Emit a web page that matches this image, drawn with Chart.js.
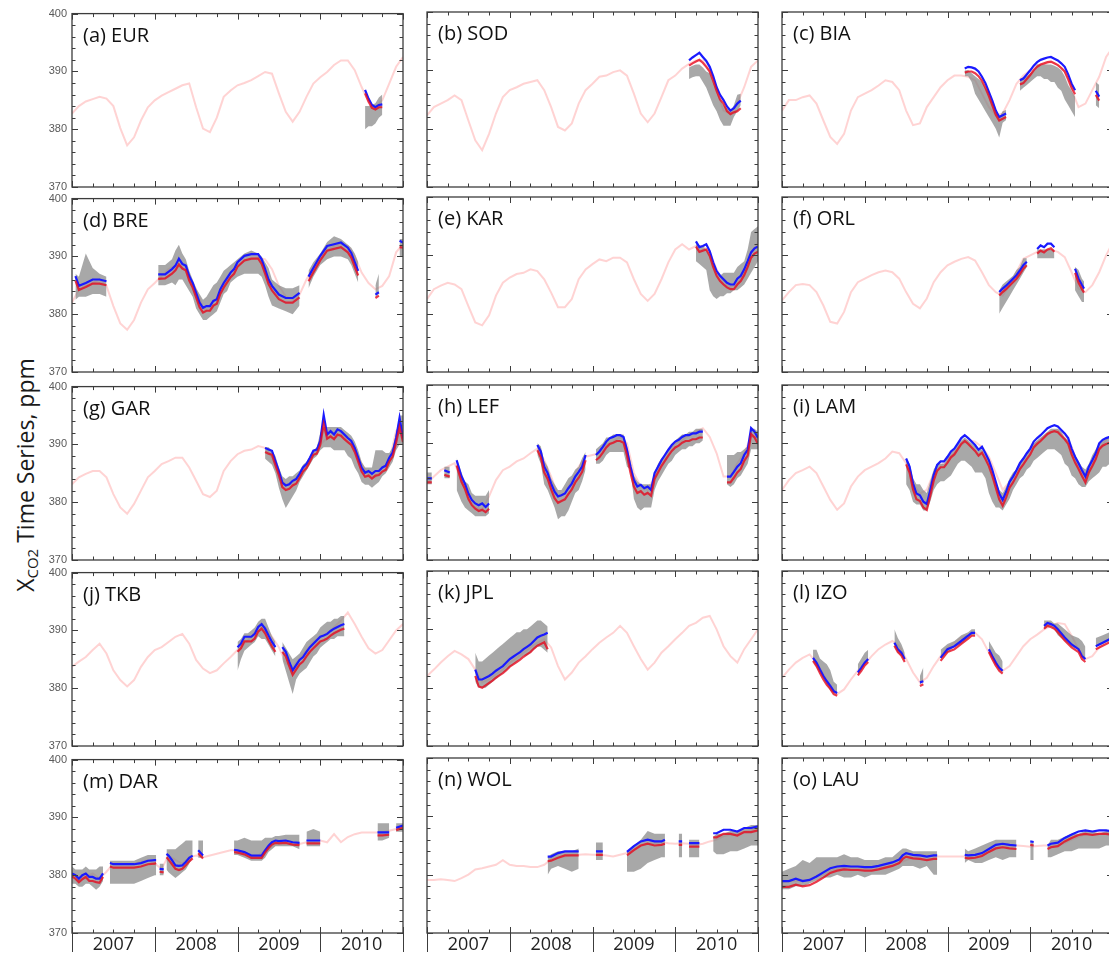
<!DOCTYPE html>
<html>
<head>
<meta charset="utf-8">
<script src="https://cdn.jsdelivr.net/npm/chart.js@4.4.0/dist/chart.umd.min.js"></script>
<style>
  html, body { margin: 0; padding: 0; background: #fff; overflow: hidden; }
  #wrap { position: relative; width: 1109px; height: 955px; overflow: hidden; }
  #wrap canvas { position: absolute; }
  #ytitle {
    position: absolute; left: 25px; top: 475px;
    transform: translate(-50%, -50%) rotate(-90deg);
    font: 23px "Open Sans", sans-serif; color: #1a1a1a; white-space: nowrap;
  }
  #ytitle sub { font-size: 15px; vertical-align: -4px; }
</style>
</head>
<body>
<div id="wrap">
  <div id="ytitle">X<sub>CO2</sub> Time Series, ppm</div>
</div>
<script>
// x axis is months since Jan 2007
const years = ["2007", "2008", "2009", "2010"];
const modelMonths = [0,1,2,3,4,5,6,7,8,9,10,11,12,13,14,15,16,17,18,19,20,21,22,23,24,
  25,26,27,28,29,30,31,32,33,34,35,36,37,38,39,40,41,42,43,44,45,46,47,48];
const panelNames = ["(a) EUR", "(b) SOD", "(c) BIA", "(d) BRE", "(e) KAR", "(f) ORL", "(g) GAR", "(h) LEF",
  "(i) LAM", "(j) TKB", "(k) JPL", "(l) IZO", "(m) DAR", "(n) WOL", "(o) LAU"];

// (a) EUR
const eurModel = [382.7,384.0,384.8,385.2,385.6,385.3,384.0,380.2,377.2,378.6,381.5,383.8,385.0,385.8,386.4,387.0,387.6,387.9,383.8,380.1,379.5,382.0,385.6,386.7,387.6,388.0,388.5,389.2,389.9,389.6,386.2,383.0,381.3,383.0,385.6,387.9,389.0,389.9,391.1,391.9,391.9,390.2,387.3,384.7,383.8,385.0,387.9,390.8,392.5];
const eurT = [42.5,43,43.5,44,44.5,45];
const eurBlue = [386.8,385.3,384.2,383.8,384.2,384.3];
const eurRed = [386.2,384.8,383.7,383.4,383.8,383.8];
const eurLo = [380,380.5,380.5,381,382,382.5];
const eurHi = [384,384,384.2,384.5,385.5,386];

// (b) SOD
const sodModel = [382.3,383.7,384.3,384.9,385.7,384.9,381.4,378.0,376.3,379.1,382.6,385.4,386.6,387.1,387.7,388.0,388.3,386.6,383.7,380.3,379.7,380.9,384.3,386.6,387.7,388.9,389.1,389.7,390.0,389.1,386.0,382.6,381.1,382.6,385.4,388.3,389.1,390.3,391.1,391.7,391.7,390.0,386.6,383.1,382.6,384.3,387.1,390.6,391.7];
const sodT = [38,38.5,39,39.5,40,40.5,41,41.5,42,42.5,43,43.5,44,44.5,45,45.5];
const sodBlue = [391.7,392.2,392.6,393.0,392.3,391.6,390.6,389.0,387.1,385.8,384.9,383.8,383.1,383.5,384.3,384.8];
const sodRed = [390.8,391.2,391.5,391.8,391.3,390.6,389.8,388.2,386.5,385.0,384.3,383.0,382.5,382.8,383.0,383.5];
const sodLo = [388.5,388.8,389,389,388,387,385.5,384,383,381.5,380.5,380.5,380.5,382,383,384];
const sodHi = [390.5,390.8,391,391,390.5,389.8,389.5,388,386.5,385,384,383.5,383,384,385.8,386];

// (c) BIA
const biaModel = [383.1,384.9,384.9,385.4,385.7,384.3,381.4,378.6,377.4,379.1,383.1,385.4,386.0,386.6,387.4,388.3,388.0,386.6,383.1,380.6,380.9,383.7,385.4,387.1,388.3,389.1,389.1,388.9,388.3,386.0,383.7,382.3,382.6,384.9,387.7,389.1,390.0,390.9,391.1,391.4,390.9,389.7,386.6,383.7,384.3,386.6,388.9,392.3,394.0];
const biaT = [26.5,27,27.5,28,28.5,29,29.5,30,30.5,31,31.5,32,32.5,33.5,34.5,35,35.5,36,36.5,37,37.5,38,38.5,39,39.5,40,40.5,41,41.5,42,42.5,44,45.5,46];
const biaBlue = [390.3,390.6,390.5,390.3,389.8,388.9,387.8,386.3,384.8,383.1,382.0,382.3,382.6,null,388.3,388.6,389.3,390.0,390.8,391.4,391.8,392.0,392.2,392.3,392.0,391.7,391.2,390.6,389.3,387.7,386.6,null,386.5,385.5];
const biaRed = [389.6,389.8,389.8,389.5,389.0,388.2,387.0,385.6,384.0,382.4,381.4,381.7,382.0,null,387.6,387.8,388.5,389.2,390.0,390.6,391.0,391.2,391.4,391.5,391.2,390.9,390.4,389.8,388.5,387.0,385.9,null,385.8,384.8];
const biaLo = [389,389,388,386,385,384,383,382,381,380,378.5,381,381.5,null,386.5,387,387.5,388,388.5,389,389,388.5,388.5,388,388,387,386.5,385,384,383,382,null,384,383.5];
const biaHi = [390,390,389.5,389,388.5,388,387,386,384.5,383,382,383,383.2,null,388.5,388.8,389,389.5,390,391,391,391,391,391,390.8,390.5,390,389,387.5,386.5,385.5,null,388,387.5];

// (d) BRE
const breModel = [382.0,384.3,384.9,385.4,386.0,384.9,381.4,378.4,377.3,379.0,382.0,384.3,385.4,386.6,387.8,388.4,388.1,386.6,384.3,381.1,380.5,382.0,384.9,387.2,388.4,389.2,389.5,389.8,389.5,387.8,384.9,383.1,382.5,383.4,386.0,388.1,390.1,391.0,391.8,392.1,391.8,390.1,387.2,385.4,384.3,384.9,386.6,390.7,392.1];
const breT = [0.5,1,2,3,4,5,6,12.5,13.5,14.5,15,15.5,16,16.5,17,17.5,18,18.5,19,19.5,20,20.5,21,21.5,22,22.5,23,23.5,24,25,26,27,27.5,28,28.5,29,30,31,32,33,33.7,34.3,35,36,37,38,39,40,40.5,41,41.5,42.5,44,44.5,45.2,47.5,48];
const breBlue = [386.6,384.9,385.4,386.0,386.0,385.7,null,386.9,386.9,387.8,388.4,389.6,388.7,388.4,386.6,385.4,383.7,382.0,381.1,381.4,381.4,382.3,382.6,384.3,385.4,386.3,387.2,387.8,389.0,390.1,390.4,390.4,389.5,387.8,386.0,384.9,383.4,382.8,382.8,383.7,null,386.5,388.0,390.1,391.8,392.1,392.4,391.5,390.6,389.0,387.5,null,383.4,383.8,null,392.7,392.4];
const breRed = [385.8,384.2,384.7,385.3,385.3,385.0,null,386.1,386.2,387.0,387.6,388.6,387.9,387.6,385.8,384.6,382.9,381.2,380.3,380.6,380.6,381.5,381.8,383.5,384.6,385.5,386.4,387.0,388.2,389.3,389.6,389.6,388.7,387.0,385.2,384.1,382.6,382.0,382.0,382.9,null,385.7,387.2,389.3,391.0,391.3,391.6,390.7,389.8,388.2,386.7,null,382.8,383.2,null,391.6,391.5];
const breLo = [382.5,383,383,383.5,383.5,383,null,385,385,385.5,385,386,386,385,384,383,381,380,379,379,379.5,380,380.5,382,383.5,384,385.5,386,386.5,387,387,387,386.5,385,383,381.5,381,380.5,380,381.5,null,384.5,386.5,388.5,389.5,390,390,389.5,388.5,387,385.5,null,383,383.5,null,390,390];
const breHi = [387,386.5,390.5,388,387,386.5,null,388.5,388.5,389.5,391,392,390.5,389.5,387.5,386,384.5,383.5,382.5,383,384,385,385.5,386.5,387.5,388,388.5,389,389.5,390.5,391,390.5,390,389,388,386,385,384.5,384.5,385,null,387.5,389,390.5,392.5,393.5,393,392,391.5,390.5,389,null,385,387,null,393,393];

// (e) KAR
const karModel = [382.5,384.2,384.8,385.3,385.0,384.2,381.3,378.5,378.0,379.7,383.1,385.3,386.2,386.8,387.0,387.6,387.3,385.9,383.6,381.1,381.1,382.5,385.9,387.6,388.5,389.3,389.0,389.6,389.6,388.8,385.9,383.4,382.2,383.4,385.9,388.8,391.0,391.9,391.0,391.6,391.6,390.5,387.6,385.3,384.5,385.3,387.0,390.5,392.2];
const karT = [39,39.5,40,40.5,41,41.5,42,42.5,43,43.5,44,44.5,45,45.5,46,46.5,47,47.5,48];
const karBlue = [392.4,391.4,391.6,391.9,390.7,388.8,387.3,386.5,385.9,385.3,385.0,385.0,386.0,386.5,387.6,389.0,390.5,391.2,391.5];
const karRed = [391.5,390.6,390.8,391.0,389.9,388.0,386.5,385.6,385.0,384.5,384.2,384.2,385.0,385.6,386.6,388.0,389.6,390.3,390.6];
const karLo = [389,388.5,388,387.5,384,383,382.5,383,383,383.5,383.5,384,384,384.5,385,386,387,388,389];
const karHi = [392,391.5,391.5,391,390,388.5,387,386.5,387,387,387,387,388,388.5,389,391,394,394.5,395];

// (f) ORL
const orlModel = [382.3,383.7,384.9,385.1,384.9,383.7,381.4,378.6,378.3,380.3,383.7,385.4,386.0,386.6,387.1,387.4,387.1,386.0,383.7,381.7,380.9,382.6,385.4,387.1,388.3,388.9,389.4,389.7,389.1,387.1,384.9,383.7,383.1,384.9,387.1,389.4,390.0,390.6,390.9,390.9,390.6,389.7,387.1,384.3,383.7,384.9,387.1,390.0,392.3];
const orlT = [31.5,32,32.5,33,33.5,34,34.5,35,35.5,36.3,37,37.5,38,38.5,39,39.5,40.5,41.5,42,42.5,43,43.5,43.8];
const orlBlue = [383.7,384.3,384.8,385.4,386.0,386.6,387.4,388.3,388.9,null,391.1,391.7,391.4,392.0,392.0,391.4,null,391.0,null,387.7,386.0,384.9,384.3];
const orlRed = [383.1,383.7,384.2,384.8,385.4,386.0,386.8,387.7,388.3,null,390.3,390.8,390.5,391.0,391.2,390.6,null,390.3,null,387.0,385.3,384.2,383.6];
const orlLo = [380,381,382,383,384,385,386,387,388,null,389.5,389.5,389.5,389.5,389.5,389.5,null,390,null,384,383,382,382];
const orlHi = [384,385,385.5,386,386.5,387.5,388,389.5,389.5,null,391,391,391,391,391,391,null,391,null,388,387.5,386,385.5];

// (g) GAR
const garModel = [383.1,384.3,384.9,385.4,385.4,384.3,381.4,379.1,378.0,379.7,382.0,384.3,385.4,386.6,387.1,387.7,387.7,386.0,383.7,381.4,380.9,382.0,385.4,387.1,388.3,388.9,389.1,389.7,389.4,387.7,384.3,383.1,383.1,384.9,386.6,388.3,390.0,391.1,391.1,391.7,391.1,389.4,386.6,384.9,384.3,386.0,387.1,392.3,393.4];
const garT = [28,28.5,29,29.5,30,30.5,31,31.5,32,32.5,33,33.5,34,34.5,35,35.5,36,36.5,37,37.5,38,38.5,39,39.5,40,40.5,41,41.5,42,42.5,43,43.5,44,44.5,45,45.5,46,46.5,47,47.5,48];
const garBlue = [389.4,389.1,388.9,387.1,385.4,383.4,382.9,383.1,383.7,384.0,384.9,386.0,386.6,387.7,388.9,389.1,390.6,395.1,391.7,392.3,391.7,392.6,392.3,391.7,391.1,390.6,389.4,387.7,386.0,385.1,385.4,384.9,385.4,385.4,386.0,386.3,387.7,388.6,391.1,394.6,391.1];
const garRed = [388.7,388.4,388.2,386.4,384.7,382.6,382.1,382.3,382.9,383.2,384.2,385.3,385.9,387.0,388.2,388.4,389.9,393.5,391.0,391.4,390.9,391.7,391.5,390.9,390.4,389.9,388.7,387.0,385.3,384.4,384.6,384.1,384.6,384.7,385.3,385.6,387.0,387.9,390.3,393.0,390.4];
const garLo = [387.5,387,386.5,385,382.5,380.5,379,380,381,382,383.5,384.5,385.5,386.5,387.5,388,389,389.5,389.5,389.5,389,389,389,389,388,387.5,386,385,383.5,383,383,382.5,383,383.5,384.5,385,386,387,389,390,390];
const garHi = [389.5,389.5,389,388,386,384.5,384,384.5,384.5,385,385.5,386.5,387,388,389,389.5,392,393,393,393,393,393,393,392.5,392,391.5,390.5,389,387,386,386,386,389,389,389,388.5,388.5,389.5,392,395,395];

// (h) LEF
const lefModel = [383.1,384.3,385.4,386.0,386.6,383.7,380.3,379.1,378.6,380.9,383.7,385.4,386.0,386.9,387.4,388.3,389.1,387.1,384.3,380.9,381.4,383.7,386.0,387.7,388.0,388.3,389.7,390.3,391.1,390.0,384.9,382.6,382.0,384.3,387.1,388.9,390.0,390.6,391.4,392.0,392.6,391.1,388.3,384.3,384.3,386.6,388.3,391.1,391.1];
const lefT = [0,0.7,1.5,2.5,3.3,3.8,4.3,5,5.5,6,6.5,7,7.5,8,8.5,9,12.5,
  16,16.5,17,17.5,18,18.5,19,19.5,20,20.5,21,21.5,22,22.5,23,23.8,
  24.5,25,25.5,26,26.5,27,27.5,28,28.5,29,29.5,30,30.5,31,31.5,32,32.5,33,33.5,34,34.5,35,35.5,36,36.5,37,37.5,38,38.5,39,39.5,40,41.5,
  43.5,44,44.5,45,45.5,46,46.5,47,47.5,48];
const lefBlue = [384.0,384.0,null,385.4,385.0,null,387.1,384.3,383.1,381.4,380.3,379.7,379.4,379.7,379.1,379.7,null,
  389.7,388.6,386.0,384.9,383.1,381.7,380.9,381.1,381.4,382.3,383.1,384.3,385.1,386.0,388.0,null,
  388.0,388.6,389.4,390.3,390.9,391.1,391.4,391.4,391.1,388.9,386.0,383.7,382.6,382.9,382.3,382.6,382.0,384.9,386.0,387.1,388.0,388.9,389.7,390.3,390.6,391.1,391.4,391.4,391.7,391.7,392.0,392.0,null,
  384.3,384.3,385.1,386.0,386.6,388.0,388.9,392.6,392.0,390.9];
const lefRed = [383.3,383.3,null,384.6,384.3,null,386.2,383.4,382.2,380.5,379.4,378.8,378.4,378.6,378.2,378.8,null,
  388.8,387.6,385.0,383.9,382.1,380.6,379.8,380.1,380.4,381.3,382.1,383.3,384.1,385.1,387.1,null,
  387.1,387.6,388.4,389.3,389.9,390.1,390.4,390.4,390.1,387.9,385.0,382.6,381.5,381.8,381.2,381.5,381.0,383.9,385.0,386.1,387.0,387.9,388.7,389.3,389.6,390.1,390.4,390.4,390.7,390.7,391.0,391.0,null,
  383.3,383.3,384.1,385.0,385.6,387.0,387.9,391.6,391.0,389.9];
const lefLo = [383,383,null,384,384,null,382,380,379,378.5,378,377.5,377.5,377.5,377.5,378,null,
  388,386.5,383,382,380.5,379,377,377.5,377.5,378.5,380,381.5,382,383.5,385.5,null,
  386.5,386.5,387,388,388.5,388.5,388.5,388.5,388.5,386,385.5,380.5,379,378.5,379,379,379,382,383.5,384.5,385.5,386.5,387,388,388.5,389,389,389.5,389.5,390,390,390.5,null,
  383,382.5,383,384,384.5,385.5,386.5,389,389,389];
const lefHi = [385,385,null,386,386,null,387.5,385,383.5,383,381.5,381,381,381,381,382,null,
  390,389.5,387,386,384,383,382,382,383,384,384.5,385.5,386,387.5,388.5,null,
  389,389.5,390,391,391,391.5,391.5,391.5,391.5,389.5,387,384.5,383.5,383,383,383,383,385,386.5,387.5,388,389,389.5,390.5,391,391.5,391.5,392,392,392.5,392.5,392.5,null,
  388,388,388,388.5,388.5,389,389.5,392.5,392.5,392];

// (i) LAM
const lamModel = [382.0,383.7,384.9,385.4,386.0,384.9,382.6,380.3,378.6,379.7,382.6,384.3,385.4,386.0,386.6,387.4,388.6,388.3,386.6,383.1,381.4,382.0,384.9,386.0,387.4,388.3,389.7,390.6,390.3,389.4,387.7,384.9,382.0,383.4,385.4,387.4,389.1,390.3,391.1,392.0,392.3,391.4,389.4,386.0,384.3,386.0,388.9,390.6,391.7];
const lamT = [18,18.5,19,19.5,20,20.5,21,21.5,22,22.5,23,23.5,24,24.5,25,25.5,26,26.5,27,27.5,28,28.5,29,29.5,30,30.5,31,31.5,32,32.5,
  33,33.5,34,34.5,35,35.5,36,36.5,37,37.5,38,38.5,39,39.5,40,40.5,41,41.5,42,42.5,43,43.5,44,44.5,45,45.5,46,46.5,47,47.5,48];
const lamBlue = [387.4,386.0,383.1,381.4,381.1,380.0,379.6,382.0,384.6,386.3,386.9,386.9,387.7,388.6,389.1,390.0,390.9,391.4,390.9,390.3,
  389.7,388.9,389.4,388.3,387.1,385.4,383.4,381.4,380.3,381.7,383.4,384.3,385.4,386.6,387.4,388.3,389.1,390.3,390.9,391.4,
  392.0,392.6,392.9,393.1,392.9,392.3,391.7,390.9,389.1,387.7,386.6,385.4,384.3,386.0,387.1,388.3,390.0,390.6,390.9,391.1,391.1];
const lamRed = [386.4,385.0,382.1,380.4,380.1,379.0,378.6,381.0,383.6,385.3,385.9,385.9,386.7,387.6,388.1,389.0,389.9,390.4,389.9,389.3,
  388.7,387.9,388.4,387.3,386.1,384.4,382.4,380.4,379.3,380.7,382.4,383.3,384.4,385.6,386.4,387.3,388.1,389.3,389.9,390.4,
  391.0,391.6,391.9,392.1,391.9,391.3,390.7,389.9,388.1,386.7,385.6,384.4,383.3,385.0,386.1,387.3,389.0,389.6,389.9,390.1,390.1];
const lamLo = [383,382,380,379.5,379.5,378.5,378.5,380,382,383,383.5,383.5,384,384.5,385.5,386.5,387,387,386.5,386,
  385,385,385,384,381.5,380,379,379,378.5,379.5,380.5,382,383,384,384.5,385.5,386,387,387.5,388,
  388.5,389,389,389,388.5,388,386.5,386,384.5,384,383,382.5,382.5,383.5,384,384.5,385,386,386,386.5,387];
const lamHi = [387.5,386.5,384,383,383,382,381.5,383.5,385.5,386.5,386.5,386.5,387.5,388.5,389,390,390.5,391,390.5,390,
  389.5,389,389,388,387,385.5,383.5,382,381.5,382.5,384,385,385.5,386.5,387.5,388.5,389,390,390.5,391,
  391.5,392,392.5,392.5,392.5,392,391,390.5,389,388,387,386,385.5,386.5,388,389,390,390.5,391,391,391];

// (j) TKB
const tkbModel = [383.7,384.6,385.4,386.6,387.7,386.0,383.1,381.4,380.3,381.4,383.7,385.4,386.6,387.1,388.0,388.9,389.4,387.7,384.9,383.4,382.6,383.1,384.3,385.4,386.6,387.7,388.9,390.6,390.6,388.9,387.1,384.3,383.7,385.1,386.6,388.0,388.9,389.4,390.6,391.7,393.1,391.1,388.9,386.9,386.0,386.6,388.3,390.0,391.1];
const tkbT = [24,24.5,25,25.5,26,26.5,27,27.5,28,28.5,29,29.5,30,30.5,31,31.5,32,32.5,33,33.5,34,34.5,35,35.5,36,36.5,37,37.5,38,38.5,39,39.5];
const tkbBlue = [387.1,387.7,388.9,388.9,388.9,389.4,390.6,391.1,390.3,389.1,388.0,387.1,null,387.1,386.3,384.6,383.1,384.0,384.9,385.4,386.3,387.1,387.7,388.3,388.9,389.1,389.4,389.9,390.3,390.6,390.9,391.1];
const tkbRed = [386.3,386.9,388.1,388.1,388.1,388.6,389.8,390.3,389.5,388.3,387.2,386.3,null,386.3,385.5,383.8,382.3,383.2,384.1,384.6,385.5,386.3,386.9,387.5,388.1,388.3,388.6,389.1,389.5,389.8,390.1,390.3];
const tkbLo = [383,385,386.5,387,387.5,388,389,388.5,388.5,387.5,386.5,385.5,null,385,383,381,379,381.5,382.5,383,383.5,384.5,385.5,386,387,387.5,388,388.5,388.5,389,389,389];
const tkbHi = [388,388.5,389.5,389.5,390,390.5,391.5,392,392,390.5,389,388,null,388,387,386,385,385.5,386,387,388,388.5,389,389.5,390.5,391,391.5,391.5,392,392,392.5,392.5];

// (k) JPL
const jplModel = [382.0,383.1,384.3,385.4,386.3,385.7,384.9,383.1,380.9,381.4,382.3,383.1,384.3,385.1,386.0,386.9,387.7,388.3,386.9,383.7,381.4,382.6,384.3,385.4,386.6,387.7,388.6,389.4,390.6,389.4,387.1,384.9,383.1,384.3,386.0,387.1,388.3,389.4,390.6,391.1,392.0,392.3,390.0,387.1,385.4,384.3,386.6,388.3,390.0];
const jplT = [7,7.5,8,8.5,9,9.5,10,10.5,11,11.5,12,12.5,13,13.5,14,14.5,15,15.5,16,16.5,17,17.5];
const jplBlue = [383.1,381.4,381.4,381.7,382.0,382.4,382.9,383.3,383.7,384.3,384.9,385.3,385.7,386.1,386.6,387.0,387.4,388.0,388.6,388.9,389.1,389.4];
const jplRed = [382.0,380.2,380.0,380.4,380.8,381.2,381.7,382.1,382.5,383.0,383.6,384.0,384.4,384.8,385.3,385.7,386.1,386.7,387.2,387.5,387.8,386.6];
const jplLo = [381,380,380,380,380.5,381,381.5,382,382.5,383,383.5,384,384.5,385,385.5,385.5,386,386.5,387,387,386.5,386];
const jplHi = [386,384.5,384.5,385,385.5,386,386.5,387,387.5,388,388.5,389,389.5,389.5,390,390,390.5,391,391.5,391.5,391,390.5];

// (l) IZO
const izoModel = [381.7,383.1,384.3,385.1,385.7,384.3,382.3,380.3,378.9,379.7,381.4,382.9,384.0,385.4,386.6,387.4,388.0,387.1,384.9,382.6,380.9,381.7,383.7,385.4,386.9,387.7,388.6,389.1,389.4,388.3,386.0,383.7,382.9,383.7,385.4,387.1,388.3,389.1,390.0,390.6,391.1,390.9,388.9,386.6,384.9,385.4,386.9,388.0,388.6];
const izoT = [4.5,5,5.5,6,6.5,7,7.5,8,9.5,11,11.5,12,12.5,14,16.3,16.8,17.3,17.8,19,20,20.5,22,23,24,25,26,27,27.5,28,29,30,30.5,31,31.5,32,35,38,38.5,39,39.5,40,41,42,43,43.5,44,45,45.5,46.5,47.5];
const izoBlue = [385.1,384.3,383.1,382.0,381.1,380.3,379.4,379.1,null,382.6,383.4,384.3,384.9,null,387.7,386.6,386.0,384.9,null,380.9,381.1,null,385.1,386.6,387.1,388.0,388.9,389.4,389.4,null,386.6,385.4,384.3,383.4,382.9,null,390.6,391.1,390.9,390.6,390.0,388.6,387.4,386.6,385.4,384.9,null,387.1,387.7,388.3];
const izoRed = [384.6,383.7,382.5,381.4,380.5,379.8,378.9,378.6,null,382.1,382.9,383.8,384.4,null,387.2,386.1,385.5,384.4,null,380.3,380.6,null,384.6,386.1,386.6,387.5,388.4,388.9,388.9,null,386.1,384.9,383.8,382.9,382.4,null,390.1,390.6,390.4,390.1,389.5,388.1,386.9,386.1,384.9,384.4,null,386.6,387.2,387.8];
const izoLo = [384.5,383.5,382.5,381.5,380.5,379.5,379,379,null,382,383,384,384.5,null,387,386,385.5,384.5,null,380.5,381,null,385,386,387,387.5,388.5,389,389,null,386,385,384,383,382.5,null,390,390.5,390.5,390,389,388,387,386.5,385.5,385,null,387,387.5,388];
const izoHi = [386.5,386.5,385,384.5,384,383,381,380.5,null,384,385,386,386.5,null,390,388.5,387.5,386,null,382,383.5,null,386.5,387.5,388,389,389.5,390,390,null,388,387,386,385.5,384.5,null,391.5,391.5,391.5,391,391,390,389,388.5,388,387,null,388.5,389,389.5];

// (m) DAR
const darModel = [380.0,379.7,379.7,380.3,379.4,380.6,382.0,382.0,381.9,382.0,382.3,382.6,382.0,381.1,383.4,382.6,382.0,383.1,383.4,383.1,383.4,383.7,384.0,384.3,384.3,384.0,383.4,383.4,384.3,384.9,385.7,386.0,385.7,385.4,385.7,385.7,386.0,385.7,387.1,385.7,386.6,387.1,387.4,387.4,387.4,387.4,387.7,388.0,388.6];
const darT = [0,0.5,1,1.5,2,2.5,3,3.5,4,4.5,5,5.5,6,7,8,9,10,11,12,12.2,12.5,12.7,13.3,13.5,13.7,14,14.5,15,15.5,16,16.5,17,17.5,18,18.3,19,21,
  23.5,24,25,26,27,27.5,28,28.5,29,29.5,30,31,32,33,33.5,34,35,36,40,44.3,45,46,46.5,47,48];
const darBlue = [380.3,380.0,379.4,380.0,380.3,379.7,379.7,379.4,379.4,380.3,null,382.1,381.9,381.9,381.9,381.9,382.1,382.5,382.6,382.6,null,381.1,381.0,null,
  383.7,383.4,382.6,381.7,381.6,381.7,382.3,383.0,383.4,null,384.3,383.4,null,
  384.4,384.3,384.0,383.4,383.4,383.4,384.3,385.1,385.7,386.0,385.9,386.0,385.7,385.6,null,386.0,386.0,386.0,null,387.4,387.4,387.4,null,388.2,388.6];
const darRed = [379.8,379.4,378.8,379.3,379.7,379.0,379.0,378.8,378.7,379.7,null,381.5,381.3,381.3,381.3,381.3,381.5,381.9,382.0,382.1,null,380.6,380.5,null,
  383.1,382.7,381.9,381.1,380.9,381.1,381.7,382.4,382.9,null,383.8,382.9,null,
  384.0,383.9,383.6,383.0,383.0,383.0,383.9,384.7,385.3,385.6,385.5,385.6,385.3,385.2,null,385.5,385.5,385.5,null,386.9,386.9,387.0,null,387.8,388.2];
const darLo = [378.5,378.5,378,378,378.5,378.5,378,377.5,378,379,null,378.5,378.5,378.5,378.5,378.5,379,379.5,380,380,null,380,380,null,
  381,380.5,380,379.5,380,380.5,381,382,383,null,383,383,null,
  383.5,383.5,383,382.5,382.5,382.5,383,384,384.5,385,385,385,385,384.5,null,385,385,385,null,386,386,386.5,null,387.5,387.5];
const darHi = [381.5,381,381,381,381.5,381,381,381,381.5,381.5,null,382.5,382.5,382.5,382.5,382.5,383,383.5,383.5,383.5,null,382,382,null,
  384.5,384.5,384.5,384.5,385,385.5,386,386,386,null,386,386,null,
  386,386,386.5,386,386,386,386.5,386.5,386.5,386.8,386.8,387,387,387,null,387.5,388,387.5,null,389,389,389,null,389,389];

// (n) WOL
const wolModel = [379.1,379.1,379.2,379.1,378.9,379.4,380.0,380.9,381.1,381.4,381.7,382.5,381.7,381.5,381.5,381.3,381.3,381.7,382.6,382.9,383.1,383.4,383.4,383.5,383.4,383.4,383.3,383.1,383.4,383.7,384.3,384.9,385.3,385.4,385.6,385.4,385.3,385.4,385.3,385.1,385.3,385.7,386.0,386.6,386.9,386.9,387.4,387.7,388.0];
const wolT = [17.5,18,19,20,21,22,23.3,24.5,25.5,27,29,30,31,32,33,34,34.5,35.5,36.5,37,37.5,38,39,39.5,40.5,41.5,42,43,44,45,46,47,48];
const wolBlue = [383.1,383.1,383.7,384.0,384.0,384.0,null,384.0,384.0,null,383.9,384.9,385.7,386.0,385.7,385.7,386.0,null,385.7,385.7,null,385.4,385.4,385.4,null,387.1,387.1,387.7,387.7,387.4,388.0,388.0,388.3];
const wolRed = [382.3,382.4,382.9,383.3,383.3,383.3,null,383.4,383.4,null,383.3,384.2,385.0,385.3,385.0,385.1,385.3,null,385.1,385.1,null,384.8,384.8,384.8,null,386.4,386.4,387.0,387.0,386.7,387.3,387.3,387.6];
const wolLo = [380,381,381.5,381,380.5,381,null,382.5,382.5,null,380.5,380.5,381,382,382.5,383,383,null,383,383,null,383,383,383,null,384,383.5,383.5,384,384,384.5,385,385];
const wolHi = [383,383.5,384,384,384,384.5,null,385.5,385.5,null,384,385,386,387.5,387,387,387,null,387,387,null,386,386,386,null,386.5,387,387,387.5,387.5,388,388.5,388.5];

// (o) LAU
const lauModel = [378.6,378.9,378.9,379.1,379.1,379.7,380.0,380.6,381.1,381.1,381.1,381.1,381.1,381.3,381.1,381.3,381.5,382.0,382.5,382.9,383.4,383.3,383.1,383.1,383.1,383.1,383.1,383.1,383.3,383.4,384.0,384.6,384.9,385.0,385.0,384.9,384.8,384.9,385.0,385.0,385.1,385.4,386.0,386.5,386.9,387.0,387.1,387.1,387.3];
const lauT = [0,1,2,3,4,5,6,7,8,9,10,11,12,13,14,15,16,17,17.5,18,19,20,21,22,22.5,23,23.5,24.5,26.5,27,28,29,30,31,32,33,34,35,36,36.5,37.5,38.5,39,40,41,42,43,44,45,46,47,48];
const lauBlue = [378.9,378.9,379.3,378.9,379.1,379.7,380.4,381.1,381.4,381.5,381.4,381.4,381.3,381.3,381.5,381.8,382.1,382.6,383.3,383.7,383.4,383.3,383.1,383.3,383.3,null,383.4,null,
  383.4,383.3,383.4,383.7,384.4,385.1,385.3,385.1,385.0,null,385.7,385.6,null,385.0,385.3,385.5,386.3,386.9,387.4,387.6,387.4,387.6,387.6,387.4];
const lauRed = [377.9,377.9,378.3,378.0,378.2,378.8,379.5,380.3,380.7,380.9,380.8,380.8,380.7,380.7,380.9,381.2,381.5,382.0,382.7,383.1,382.8,382.7,382.5,382.7,382.7,null,382.8,null,
  382.9,382.8,382.9,383.2,383.9,384.5,384.7,384.5,384.4,null,385.1,385.0,null,384.4,384.7,384.9,385.7,386.3,386.8,387.0,386.8,387.0,387.0,386.8];
const lauLo = [377.5,377.5,378,378,378.5,379,379.5,379.5,380,379.5,379.5,380,379.5,380,380,380,380.5,381,381.5,381.5,381.5,381,381.5,380,380,null,380,null,
  382,382.5,382,382,382.5,383,382.5,383,383,null,382.5,382.5,null,383,383,383.5,384,384,384.5,384.5,384.5,384.5,385,385];
const lauHi = [380.5,381,381.5,382.5,382,383,383,383,383,383.5,383,383,382.5,382.5,382.5,383,383,384,384.5,384.5,384,384,384,384,384,null,384,null,
  384.5,384,384.5,385,385.5,386,386,386,386,null,385.5,385.5,null,385,386,386,386.5,387,387,387.5,387.5,387,387.5,387.5];

const stations = [
  [eurModel, eurT, eurBlue, eurRed, eurLo, eurHi],
  [sodModel, sodT, sodBlue, sodRed, sodLo, sodHi],
  [biaModel, biaT, biaBlue, biaRed, biaLo, biaHi],
  [breModel, breT, breBlue, breRed, breLo, breHi],
  [karModel, karT, karBlue, karRed, karLo, karHi],
  [orlModel, orlT, orlBlue, orlRed, orlLo, orlHi],
  [garModel, garT, garBlue, garRed, garLo, garHi],
  [lefModel, lefT, lefBlue, lefRed, lefLo, lefHi],
  [lamModel, lamT, lamBlue, lamRed, lamLo, lamHi],
  [tkbModel, tkbT, tkbBlue, tkbRed, tkbLo, tkbHi],
  [jplModel, jplT, jplBlue, jplRed, jplLo, jplHi],
  [izoModel, izoT, izoBlue, izoRed, izoLo, izoHi],
  [darModel, darT, darBlue, darRed, darLo, darHi],
  [wolModel, wolT, wolBlue, wolRed, wolLo, wolHi],
  [lauModel, lauT, lauBlue, lauRed, lauLo, lauHi]
];

// layout of the plot boxes
const colLeft = [72, 427, 782];
const rowTop = [12, 197, 385, 571, 758];
const plotW = 331, plotH = 175;
const axisW = 50, axisH = 40, padT = 10, padR = 10;

const frame = {
  id: "frame",
  afterDatasetsDraw(chart, args, opts) {
    const { ctx, chartArea: a } = chart;
    const x = chart.scales.x, y = chart.scales.y;
    ctx.save();
    ctx.strokeStyle = "#3c3c3c";
    ctx.lineWidth = 1.3;
    ctx.strokeRect(a.left, a.top, a.right - a.left, a.bottom - a.top);
    ctx.lineWidth = 1;
    ctx.beginPath();
    for (let v = 370; v <= 400; v += 2) {
      const py = Math.round(y.getPixelForValue(v)) + 0.5;
      const len = v % 10 === 0 ? 6 : 3.5;
      ctx.moveTo(a.left, py); ctx.lineTo(a.left + len, py);
      ctx.moveTo(a.right, py); ctx.lineTo(a.right - len, py);
    }
    for (let m = 0; m <= 48; m += 3) {
      const px = Math.round(x.getPixelForValue(m)) + 0.5;
      const len = m % 12 === 0 ? 6 : 3.5;
      ctx.moveTo(px, a.top); ctx.lineTo(px, a.top + len);
      ctx.moveTo(px, a.bottom); ctx.lineTo(px, a.bottom - len);
      if (opts.bottom && m % 12 === 0) {
        ctx.moveTo(px, a.bottom); ctx.lineTo(px, a.bottom + 19);
      }
    }
    ctx.stroke();
    ctx.fillStyle = "#111";
    ctx.font = '20px "Open Sans"';
    ctx.textBaseline = "alphabetic";
    ctx.fillText(opts.label, a.left + 11, a.top + 28);
    ctx.restore();
  }
};

function pts(t, v) {
  return t.map((tt, i) => ({ x: tt, y: v[i] }));
}

const wrap = document.getElementById("wrap");

stations.forEach((s, k) => {
  const [model, t, blue, red, lo, hi] = s;
  const col = k % 3, row = Math.floor(k / 3);
  const isLeft = col === 0, isBottom = row === 4;

  const cv = document.createElement("canvas");
  cv.width = plotW + axisW + padR;
  cv.height = plotH + axisH + padT;
  cv.style.left = (colLeft[col] - axisW) + "px";
  cv.style.top = (rowTop[row] - padT) + "px";
  wrap.appendChild(cv);

  new Chart(cv, {
    type: "line",
    data: {
      datasets: [
        { data: pts(modelMonths, model), borderColor: "rgba(255,150,150,0.42)", borderWidth: 2, pointRadius: 0, order: 5 },
        { data: pts(t, lo), borderWidth: 0, borderColor: "rgba(0,0,0,0)", pointRadius: 0, fill: false, order: 4 },
        { data: pts(t, hi), borderWidth: 0, borderColor: "rgba(0,0,0,0)", pointRadius: 0, fill: "-1", backgroundColor: "rgba(135,135,135,0.72)", order: 3 },
        { data: pts(t, blue), borderColor: "#1a1aff", borderWidth: 2.2, pointRadius: 0, order: 2 },
        { data: pts(t, red), borderColor: "rgba(230,10,30,0.8)", borderWidth: 2.2, pointRadius: 0, order: 1 }
      ]
    },
    options: {
      responsive: false,
      animation: false,
      devicePixelRatio: 1,
      layout: { padding: { top: padT, right: padR, left: 0, bottom: 0 } },
      elements: { line: { tension: 0 } },
      plugins: {
        legend: { display: false },
        tooltip: { enabled: false },
        frame: { label: panelNames[k], bottom: isBottom }
      },
      scales: {
        x: {
          type: "linear", min: 0, max: 48,
          grid: { display: false, drawTicks: false },
          border: { display: false },
          ticks: {
            display: isBottom, stepSize: 6, autoSkip: false, maxRotation: 0, padding: 1,
            color: "#222", font: { family: "Open Sans", size: 18 },
            callback: v => (v % 12 === 6 ? years[(v - 6) / 12] : "")
          },
          afterFit: sc => { sc.height = axisH; }
        },
        y: {
          min: 370, max: 400,
          grid: { display: false, drawTicks: false },
          border: { display: false },
          ticks: {
            display: isLeft, stepSize: 10, padding: 5,
            color: "#5a5a5a", font: { family: "Liberation Sans", size: 11 }
          },
          afterFit: sc => { sc.width = axisW; }
        }
      }
    },
    plugins: [frame]
  });
});
</script>
</body>
</html>
